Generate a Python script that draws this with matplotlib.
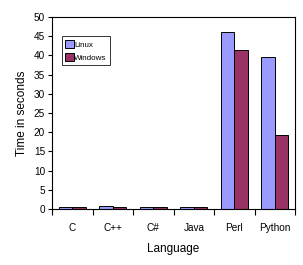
import numpy as np
import matplotlib.pyplot as plt

languages = ["C", "C++", "C#", "Java", "Perl", "Python"]
linux = [0.5, 0.8, 0.5, 0.5, 46.2, 39.7]
windows = [0.5, 0.5, 0.5, 0.5, 41.5, 19.4]

plt.rcParams["font.family"] = ["Liberation Sans", "DejaVu Sans"]

fig = plt.figure(figsize=(3.03, 2.65), dpi=100)
ax = fig.add_axes([0.172, 0.211, 0.802, 0.725])

x = np.arange(len(languages))
w = 0.335
ax.bar(x - w / 2, linux, w, color="#9999ff", edgecolor="black", linewidth=0.7, label="Linux")
ax.bar(x + w / 2, windows, w, color="#993366", edgecolor="black", linewidth=0.7, label="Windows")

ax.set_xlim(-0.5, len(languages) - 0.5)
ax.set_ylim(0, 50)
ax.set_yticks(range(0, 51, 5))
ax.set_xticks(x)
ax.set_xticklabels(languages)
ax.set_xticks(np.arange(-0.5, len(languages), 1), minor=True)
ax.tick_params(axis="x", which="major", length=0, pad=10, labelsize=7.2)
ax.tick_params(axis="x", which="minor", length=4.5, width=0.8, direction="out")
ax.tick_params(axis="y", length=3, width=0.8, labelsize=7.2, pad=2)
for s in ax.spines.values():
    s.set_linewidth(0.8)

ax.set_xlabel("Language", fontsize=8.5, labelpad=7)
ax.set_ylabel("Time in seconds", fontsize=8.5, labelpad=4)

leg = ax.legend(loc="upper left", bbox_to_anchor=(0.04, 0.9), fontsize=5.8,
                frameon=True, fancybox=False, edgecolor="black",
                handlelength=1.0, handleheight=1.2, handletextpad=0.1,
                borderpad=0.45, labelspacing=0.5, borderaxespad=0)
leg.get_frame().set_linewidth(0.7)

fig.savefig("out.png", dpi=100)
